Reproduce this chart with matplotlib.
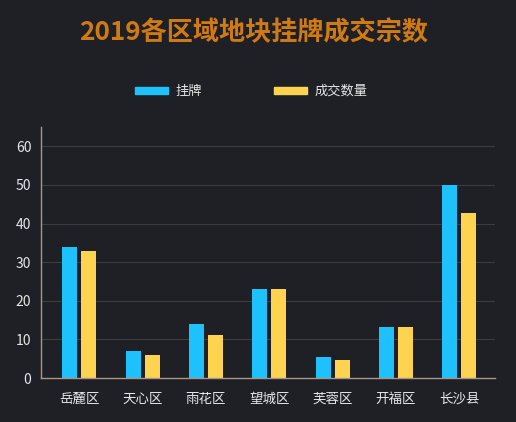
import matplotlib
matplotlib.use("Agg")
import matplotlib.pyplot as plt
import numpy as np
from matplotlib.patches import Rectangle

plt.rcParams['font.family'] = ['Noto Sans CJK SC', 'DejaVu Sans']

categories = ['岳麓区', '天心区', '雨花区', '望城区', '芙蓉区', '开福区', '长沙县']
listed = [34, 7, 14, 23, 5.4, 13.2, 50]
traded = [33, 6, 11.2, 23, 4.6, 13.2, 42.8]
yticks = [0, 10, 20, 30, 40, 50, 60]
series_names = ['挂牌', '成交数量']
title = '2019各区域地块挂牌成交宗数'

BG = '#1f2026'
BLUE = '#1ec1fb'
YELLOW = '#fed34f'
W, H = 516, 422

fig = plt.figure(figsize=(W / 100, H / 100), dpi=100, facecolor=BG)
# axes: left 41px, right 495px, bottom 378px, top 127px
ax = fig.add_axes([41 / W, 1 - 378 / H, (495 - 41) / W, (378 - 127) / H], facecolor=BG)

x = np.arange(len(categories))
bw = 0.237
off = 0.15
ax.bar(x - off, listed, width=bw, color=BLUE, zorder=3)
ax.bar(x + off, traded, width=bw, color=YELLOW, zorder=3)

ax.set_xlim(-0.603, 6.564)
ax.set_ylim(0, 65)
ax.set_yticks(yticks)
ax.set_xticks(x)
ax.set_xticklabels(categories, fontsize=9.7, color='#e6e6e6')
ax.tick_params(axis='y', length=0, pad=7, labelsize=10, labelcolor='#e6e6e6')
ax.tick_params(axis='x', length=0, pad=10)
ax.grid(axis='y', color='#3c3c40', linewidth=0.8, zorder=0)
for s in ['top', 'right']:
    ax.spines[s].set_visible(False)
for s in ['left', 'bottom']:
    ax.spines[s].set_color('#a8968a')
    ax.spines[s].set_linewidth(1.0)
    ax.spines[s].set_zorder(4)

fig.text(254 / W, 1 - 33 / H, title, ha='center', va='center',
         fontsize=18.8, fontweight='bold', color='#d07a14')

# legend
legend_items = [(135, 168, BLUE, series_names[0], 176),
                (274, 307, YELLOW, series_names[1], 315)]
for x0, x1, c, name, tx in legend_items:
    fig.patches.append(Rectangle((x0 / W, 1 - 93.5 / H), (x1 - x0) / W, 6 / H,
                                 transform=fig.transFigure, color=c))
    fig.text(tx / W, 1 - 91 / H, name, ha='left', va='center',
             fontsize=9.5, color='#e6e6e6')

fig.savefig('out.png', dpi=100, facecolor=BG)
